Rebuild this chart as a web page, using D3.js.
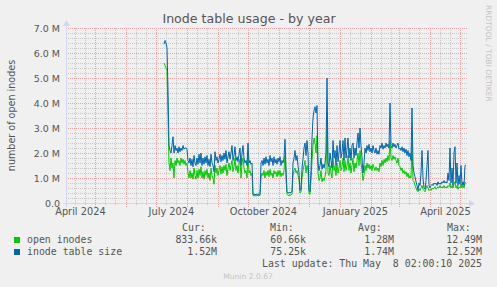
<!DOCTYPE html>
<html>
<head>
<meta charset="utf-8">
<script src="https://cdn.jsdelivr.net/npm/d3@7"></script>
<style>
  body { margin: 0; background: #f0f0f0; }
  svg { display: block; font-family: "DejaVu Sans", sans-serif; }
  .mono { font-family: "DejaVu Sans Mono", monospace; white-space: pre; }
</style>
</head>
<body>
<div id="chart"></div>
<script>
const w = 497;
const h = 287;
const plotLeft = 67, plotRight = 467, plotTop = 28, plotBottom = 203;

// time window of the yearly graph and the daily samples (millions)
const timeWindow = ["2024-04-03T02:00", "2025-05-08T02:00"];
const sampleStart = "2024-07-09T02:00";
const openInodes = [
  5.6,5.5,5.4,5.3,3.5,1.6,1.3,
  1.8,1.4,1.6,1.0,1.7,1.5,1.8,1.6,1.7,1.5,
  1.8,1.6,1.75,1.55,1.7,1.5,1.6,1.2,1.0,1.3,
  1.0,1.2,0.95,1.4,1.1,0.95,1.3,1.0,1.35,1.1,
  1.45,1.0,1.25,0.95,1.3,1.1,1.35,1.0,1.2,0.9,
  1.4,1.1,1.0,0.75,1.5,1.2,1.4,1.1,1.3,1.5,
  1.15,1.45,1.2,1.5,1.3,1.55,1.1,1.4,1.6,1.3,
  1.5,1.7,1.25,1.45,1.8,1.3,1.5,1.2,1.55,1.75,
  1.0,1.6,1.8,1.4,1.2,1.3,1.0,1.9,1.2,1.3,
  1.1,1.2,0.3,0.28,0.3,0.28,0.3,0.29,0.3,0.3,
  1.0,1.2,1.1,1.3,1.0,1.25,1.1,1.3,1.05,1.35,
  1.1,1.2,1.0,1.3,1.15,1.25,1.05,1.3,1.1,1.3,
  1.05,1.2,1.1,1.3,1.9,1.0,0.35,0.3,0.32,0.3,
  0.33,0.35,1.1,1.3,1.4,1.2,1.3,1.1,0.9,0.4,
  0.45,1.0,1.3,1.5,1.7,1.2,1.5,1.3,0.4,0.35,
  0.9,1.7,2.3,2.6,2.4,2.0,2.7,1.2,0.9,1.0,
  1.3,0.85,1.0,0.9,1.05,1.3,3.6,1.2,1.1,1.5,
  1.2,1.0,1.8,1.3,1.5,1.1,1.6,1.2,1.4,1.7,
  1.3,1.45,1.8,1.25,1.7,1.3,1.5,1.9,1.3,1.6,
  1.2,1.5,1.8,1.25,1.6,1.4,1.7,2.0,1.5,2.1,
  1.6,1.3,0.9,1.1,1.5,1.3,1.6,1.4,1.55,1.35,
  1.5,1.3,1.55,1.4,1.3,1.45,1.3,1.4,1.25,1.6,
  1.45,1.7,1.5,1.75,1.6,1.8,1.65,1.9,1.7,2.5,
  1.8,1.7,1.9,1.75,1.85,1.7,1.6,1.8,1.5,1.45,
  1.3,1.4,1.2,1.3,1.15,1.25,1.05,1.2,1.0,1.1,
  1.0,2.4,0.9,0.85,0.7,0.6,0.5,0.45,0.55,0.5,
  0.6,0.7,0.55,0.5,0.45,0.6,0.7,0.6,0.5,0.55,
  0.5,0.6,0.55,0.6,0.65,0.55,0.6,0.65,0.6,0.7,
  0.6,0.65,0.6,0.7,0.6,0.65,0.6,0.7,0.65,0.8,
  0.6,0.7,0.6,0.75,0.85,0.6,0.7,0.55,0.65,0.6,
  0.75,0.6,0.7,0.6,0.8,0.83
];
const inodeTableSize = [
  6.35,6.5,6.4,6.2,4.5,2.3,2.1,
  2.0,2.3,2.65,2.0,2.3,2.1,2.2,2.0,2.25,2.05,
  2.2,2.1,2.3,2.15,2.2,2.2,2.15,1.7,1.6,1.8,
  1.5,1.75,1.45,1.9,1.6,1.5,1.8,1.55,1.95,1.6,
  2.0,1.5,1.8,1.55,1.85,1.6,1.9,1.5,1.75,1.45,
  1.95,1.6,1.5,1.25,2.05,1.7,1.85,1.6,1.75,1.95,
  1.65,1.9,1.7,2.0,1.75,2.1,1.6,1.85,2.05,1.75,
  2.0,2.3,1.7,1.9,2.25,1.7,1.85,1.65,1.95,2.2,
  1.5,2.0,2.3,1.8,1.6,1.7,1.5,2.4,1.6,1.7,
  1.55,1.6,0.35,0.32,0.35,0.33,0.36,0.34,0.35,0.36,
  1.6,1.7,1.5,1.8,1.55,1.85,1.6,1.75,1.5,1.9,
  1.65,1.8,1.5,1.85,1.6,1.75,1.55,1.8,1.65,1.85,
  1.5,1.7,1.6,1.8,2.55,1.4,0.45,0.4,0.42,0.4,
  0.43,0.45,1.6,1.8,2.1,1.7,1.9,1.5,1.2,0.5,
  0.55,1.4,1.75,2.2,2.4,1.9,2.5,2.0,0.5,0.45,
  1.3,2.6,3.4,3.7,3.85,3.6,3.9,1.6,1.3,1.5,
  1.8,1.35,1.55,1.4,1.6,2.0,5.0,1.6,1.45,2.0,
  1.7,1.4,2.5,1.8,2.1,1.5,2.3,1.65,2.0,2.5,
  1.8,2.05,2.5,1.7,2.6,1.8,2.15,2.6,1.8,2.2,
  1.7,2.3,2.4,1.8,2.2,1.9,2.4,2.8,2.2,3.0,
  2.3,1.8,1.2,1.6,2.2,2.0,2.3,2.1,2.35,2.05,
  2.2,2.0,2.3,2.1,2.0,2.2,1.95,2.1,1.95,2.3,
  2.2,2.4,2.15,2.3,2.2,2.4,2.25,2.35,2.2,4.0,
  2.3,2.2,2.4,2.25,2.35,2.2,2.3,2.4,2.15,2.2,
  2.1,2.25,2.05,2.2,2.0,2.15,1.9,2.1,1.85,2.0,
  1.7,3.8,1.5,1.2,1.05,0.85,0.7,0.5,0.8,0.7,
  1.2,2.1,1.0,0.6,0.55,0.9,1.5,2.1,0.7,0.6,
  0.7,0.75,0.7,0.8,0.75,0.8,0.7,0.85,0.75,0.8,
  0.75,0.85,0.8,0.9,0.8,0.85,0.8,1.2,0.9,2.2,
  0.8,1.4,0.7,2.0,2.25,0.8,1.6,0.7,1.1,0.75,
  1.5,0.7,0.85,0.7,1.5,1.52
];

const yMax = 7;
const monthLabels = ["2024-04-16", "2024-07-16", "2024-10-16", "2025-01-16", "2025-04-16"];

const seriesNames = ["open inodes", "inode table size"];
const statHeaders = ["Cur:", "Min:", "Avg:", "Max:"];
const curValues = ["833.66k", "1.52M"];
const minValues = ["60.66k", "75.25k"];
const avgValues = ["1.28M", "1.74M"];
const maxValues = ["12.49M", "12.52M"];
const lastUpdate = "Last update: Thu May  8 02:00:10 2025";

const colors = ["#00cc00", "#0066b3"];
const textColor = "#555";
const axisColor = "#cfd6f8";
const minorColor = "#c8c8c8";
const majorColor = "#eaa2a2";

const parse = d3.isoParse;
const start = parse(sampleStart);
const toSeries = vals => vals.map((v, i) => ({ date: d3.timeDay.offset(start, i), v: v }));
const series = [toSeries(openInodes), toSeries(inodeTableSize)];

const xScale = d3.scaleTime()
                 .domain(timeWindow.map(parse))
                 .range([plotLeft, plotRight]);

const yScale = d3.scaleLinear()
                 .domain([0, yMax])
                 .range([plotBottom, plotTop]);

const svg = d3.select("#chart")
              .append("svg")
              .attr("width", w)
              .attr("height", h);

svg.append("rect").attr("width", w).attr("height", h).attr("fill", "#f0f0f0");

// dotted grid lines are drawn as 1px rects filled with a pixel pattern
const defs = svg.append("defs");
const dotPattern = (id, color, vertical) => {
  const p = defs.append("pattern")
    .attr("id", id)
    .attr("patternUnits", "userSpaceOnUse")
    .attr("width", vertical ? 1 : 2)
    .attr("height", vertical ? 2 : 1);
  p.append("rect").attr("width", 1).attr("height", 1).attr("fill", color);
};
dotPattern("vMinor", minorColor, true);
dotPattern("hMinor", minorColor, false);
dotPattern("vMajor", majorColor, true);
dotPattern("hMajor", majorColor, false);

const grid = svg.append("g").attr("shape-rendering", "crispEdges");

// minor horizontal grid, every 0.2 M
const minorY = d3.range(0, yMax + 0.001, 0.2).filter(v => Math.abs(v - Math.round(v)) > 0.01);
grid.selectAll(".hminor")
  .data(minorY)
  .enter().append("rect")
  .attr("x", plotLeft - 2).attr("width", plotRight - plotLeft + 2)
  .attr("y", d => Math.round(yScale(d))).attr("height", 1)
  .attr("fill", "url(#hMinor)");

// minor vertical grid
const minorX = d3.timeDay.every(10).range(xScale.domain()[0], xScale.domain()[1])
                 .filter(d => d.getDate() !== 1 && d.getDate() !== 31);
grid.selectAll(".vminor")
  .data(minorX)
  .enter().append("rect")
  .attr("x", d => Math.round(xScale(d))).attr("width", 1)
  .attr("y", plotTop).attr("height", plotBottom - plotTop + 3)
  .attr("fill", "url(#vMinor)");

// major grid
const majorY = d3.range(0, yMax + 1);
grid.selectAll(".hmajor")
  .data(majorY)
  .enter().append("rect")
  .attr("x", plotLeft - 2).attr("width", plotRight - plotLeft + 2)
  .attr("y", d => Math.round(yScale(d))).attr("height", 1)
  .attr("fill", "url(#hMajor)");

const majorX = d3.timeMonth.range(xScale.domain()[0], xScale.domain()[1]);
grid.selectAll(".vmajor")
  .data(majorX)
  .enter().append("rect")
  .attr("x", d => Math.round(xScale(d))).attr("width", 1)
  .attr("y", plotTop).attr("height", plotBottom - plotTop + 4)
  .attr("fill", "url(#vMajor)");

//Y axis labels
const yAxis = d3.axisLeft(yScale)
                .tickValues(majorY)
                .tickSize(0)
                .tickPadding(0)
                .tickFormat(d => d === 0 ? "0.0" : d3.format(".1f")(d) + " M");
const gy = svg.append("g")
  .attr("transform", "translate(" + (plotLeft - 7) + ",0)")
  .call(yAxis);
gy.select(".domain").remove();
gy.selectAll("text").attr("fill", textColor).attr("font-size", "9.5px")
  .attr("font-family", "DejaVu Sans").attr("dy", "0.34em");

//X axis labels, centred in the middle of the month
const xAxis = d3.axisBottom(xScale)
                .tickValues(monthLabels.map(parse))
                .tickSize(0)
                .tickPadding(0)
                .tickFormat(d3.timeFormat("%B %Y"));
const gx = svg.append("g")
  .attr("transform", "translate(0," + (plotBottom + 12) + ")")
  .call(xAxis);
gx.select(".domain").remove();
gx.selectAll("text").attr("fill", textColor).attr("font-size", "9.8px")
  .attr("font-family", "DejaVu Sans").attr("dy", 0);

// data lines
const line = d3.line()
               .x(d => xScale(d.date))
               .y(d => yScale(d.v));

svg.selectAll(".series")
  .data(series)
  .enter().append("path")
  .attr("d", line)
  .attr("fill", "none")
  .attr("stroke", (d, i) => colors[i])
  .attr("stroke-width", 1);

// axis lines with arrows
const axes = svg.append("g");
axes.append("line")
  .attr("x1", plotLeft - 4).attr("x2", plotRight + 3)
  .attr("y1", plotBottom + 0.5).attr("y2", plotBottom + 0.5)
  .attr("stroke", axisColor);
axes.append("line")
  .attr("x1", plotLeft - 0.5).attr("x2", plotLeft - 0.5)
  .attr("y1", plotBottom + 4).attr("y2", plotTop - 4)
  .attr("stroke", axisColor);
svg.append("path")
  .attr("d", `M${plotRight + 2},${plotBottom - 3}L${plotRight + 8},${plotBottom + 0.5}L${plotRight + 2},${plotBottom + 4}Z`)
  .attr("fill", axisColor);
svg.append("path")
  .attr("d", `M${plotLeft - 4},${plotTop - 2}L${plotLeft - 0.5},${plotTop - 8}L${plotLeft + 3},${plotTop - 2}Z`)
  .attr("fill", axisColor);

// title and side texts
svg.append("text")
  .attr("x", 249).attr("y", 23)
  .attr("text-anchor", "middle")
  .attr("font-size", "12.6px")
  .attr("fill", textColor)
  .text("Inode table usage - by year");

svg.append("text")
  .attr("transform", "translate(15," + ((plotTop + plotBottom) / 2) + ") rotate(-90)")
  .attr("text-anchor", "middle")
  .attr("font-size", "9.6px")
  .attr("fill", textColor)
  .text("number of open inodes");

svg.append("text")
  .attr("transform", "translate(486,5) rotate(90)")
  .attr("font-size", "7.5px")
  .attr("fill", "#c4c4c4")
  .text("RRDTOOL / TOBI OETIKER");

// legend
const legend = svg.append("g").attr("class", "mono").attr("font-size", "9.9px").attr("fill", textColor);
const headerX = [182, 270, 358, 447];
legend.selectAll(".hdr")
  .data(statHeaders)
  .enter().append("text")
  .attr("class", "mono")
  .attr("x", (d, i) => headerX[i]).attr("y", 231)
  .text(d => d);

const rowY = [243, 255];
const valueEnds = [217, 306, 394, 482];
seriesNames.forEach((name, i) => {
  legend.append("rect")
    .attr("x", 14).attr("y", rowY[i] - 6)
    .attr("width", 6).attr("height", 6)
    .attr("fill", colors[i]);
  legend.append("text").attr("class", "mono")
    .attr("x", 27).attr("y", rowY[i]).text(name);
  [curValues, minValues, avgValues, maxValues].forEach((vals, j) => {
    legend.append("text").attr("class", "mono")
      .attr("x", valueEnds[j]).attr("y", rowY[i])
      .attr("text-anchor", "end")
      .text(vals[i]);
  });
});

legend.append("text").attr("class", "mono")
  .attr("x", 482).attr("y", 267)
  .attr("text-anchor", "end")
  .text(lastUpdate);

svg.append("text")
  .attr("x", 248).attr("y", 279)
  .attr("text-anchor", "middle")
  .attr("font-size", "7.6px")
  .attr("fill", "#c4c4c4")
  .text("Munin 2.0.67");
</script>
</body>
</html>
